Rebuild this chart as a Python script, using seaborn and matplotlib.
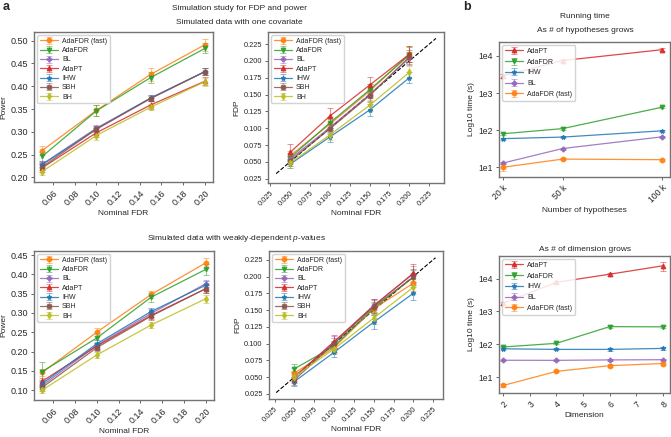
import numpy as np
import matplotlib
matplotlib.use('Agg')
import matplotlib.pyplot as plt
from matplotlib.ticker import FuncFormatter, NullLocator
import seaborn as sns

# ---- data ----
fdr_levels = [0.05, 0.10, 0.15, 0.20]
methods_a = ['AdaFDR (fast)', 'AdaFDR', 'BL', 'AdaPT', 'IHW', 'SBH', 'BH']

# simulated data with one covariate
power_cov = [
    [0.259, 0.347, 0.426, 0.491],
    [0.246, 0.346, 0.419, 0.483],
    [0.229, 0.308, 0.374, 0.432],
    [0.221, 0.298, 0.359, 0.411],
    [0.228, 0.306, 0.374, 0.432],
    [0.223, 0.306, 0.373, 0.432],
    [0.213, 0.292, 0.354, 0.410],
]
power_cov_err = [
    [0.010, 0.012, 0.014, 0.013],
    [0.010, 0.012, 0.012, 0.011],
    [0.006, 0.007, 0.006, 0.008],
    [0.010, 0.010, 0.008, 0.009],
    [0.006, 0.007, 0.006, 0.008],
    [0.006, 0.007, 0.006, 0.008],
    [0.008, 0.009, 0.006, 0.009],
]
fdp_cov = [
    [0.059, 0.106, 0.155, 0.210],
    [0.056, 0.108, 0.157, 0.209],
    [0.054, 0.101, 0.150, 0.204],
    [0.064, 0.118, 0.164, 0.210],
    [0.0465, 0.087, 0.127, 0.175],
    [0.0515, 0.099, 0.1485, 0.206],
    [0.048, 0.090, 0.134, 0.183],
]
fdp_cov_err = [
    [0.007, 0.008, 0.010, 0.012],
    [0.007, 0.008, 0.009, 0.011],
    [0.007, 0.008, 0.009, 0.010],
    [0.013, 0.012, 0.012, 0.012],
    [0.006, 0.007, 0.009, 0.008],
    [0.007, 0.008, 0.009, 0.010],
    [0.007, 0.007, 0.008, 0.009],
]

# simulated data with weakly-dependent p-values
power_dep = [
    [0.146, 0.250, 0.348, 0.430],
    [0.148, 0.235, 0.341, 0.413],
    [0.112, 0.216, 0.299, 0.376],
    [0.123, 0.214, 0.294, 0.363],
    [0.117, 0.220, 0.304, 0.372],
    [0.107, 0.210, 0.292, 0.363],
    [0.100, 0.191, 0.269, 0.337],
]
power_dep_err = [
    [0.010, 0.010, 0.010, 0.013],
    [0.025, 0.012, 0.012, 0.015],
    [0.008, 0.009, 0.010, 0.010],
    [0.009, 0.009, 0.009, 0.010],
    [0.008, 0.009, 0.010, 0.010],
    [0.008, 0.009, 0.009, 0.010],
    [0.008, 0.009, 0.007, 0.010],
]
fdp_dep = [
    [0.056, 0.094, 0.152, 0.190],
    [0.0625, 0.096, 0.153, 0.199],
    [0.051, 0.102, 0.157, 0.204],
    [0.050, 0.103, 0.156, 0.205],
    [0.0435, 0.087, 0.132, 0.175],
    [0.046, 0.100, 0.155, 0.199],
    [0.051, 0.092, 0.138, 0.184],
]
fdp_dep_err = [
    [0.007, 0.008, 0.009, 0.012],
    [0.007, 0.008, 0.009, 0.011],
    [0.008, 0.009, 0.010, 0.012],
    [0.008, 0.010, 0.010, 0.014],
    [0.007, 0.007, 0.010, 0.010],
    [0.008, 0.009, 0.010, 0.012],
    [0.007, 0.008, 0.009, 0.010],
]

# running time
methods_b = ['AdaPT', 'AdaFDR', 'IHW', 'BL', 'AdaFDR (fast)']
n_hypotheses = [20, 50, 100]
hyp_labels = ['20 k', '50 k', '100 k']
time_hyp = [
    [2900, 7500, 14700],
    [80, 110, 415],
    [59, 65, 96],
    [13, 32, 66],
    [10, 16.6, 16],
]
time_hyp_err = [
    [300, 600, 1500],
    [5, 8, 30],
    [4, 4, 6],
    [1, 2, 4],
    [2, 1, 1],
]
dimensions = [2, 4, 6, 8]
time_dim = [
    [1800, 7700, 13600, 24500],
    [83, 107, 345, 340],
    [73, 70, 70, 75],
    [32.7, 32.5, 33.5, 34],
    [5.6, 15, 22.4, 26],
]
time_dim_err = [
    [200, 1000, 1500, 7000],
    [6, 8, 30, 25],
    [8, 5, 6, 10],
    [1.5, 1.5, 1.5, 1.5],
    [0.5, 1, 2, 3],
]

# ---- style ----
sns.set_style('ticks')
plt.rcParams['font.family'] = ['Liberation Sans', 'DejaVu Sans']
plt.rcParams['mathtext.fontset'] = 'custom'
plt.rcParams['mathtext.it'] = 'Liberation Sans:italic'
plt.rcParams['mathtext.rm'] = 'Liberation Sans'

pal = sns.color_palette('tab10')
colors = {'AdaFDR (fast)': pal[1], 'AdaFDR': pal[2], 'BL': pal[4], 'AdaPT': pal[3],
          'IHW': pal[0], 'SBH': pal[5], 'BH': pal[8]}
markers = {'AdaFDR (fast)': 'o', 'AdaFDR': 'v', 'BL': 'P', 'AdaPT': '^',
           'IHW': '*', 'SBH': 'X', 'BH': 'd'}

W, H = 671, 437
fig = plt.figure(figsize=(W / 100, H / 100), dpi=100)


def add_ax(l, r, t, b):
    return fig.add_axes([l / W, 1 - b / H, (r - l) / W, (b - t) / H])


def style_ax(ax, tick_fs):
    for s in ax.spines.values():
        s.set_color('0.45')
        s.set_linewidth(1.0)
    ax.tick_params(labelsize=tick_fs, length=2.5, width=0.6, color='0.3', pad=2)
    for lab in ax.get_xticklabels():
        lab.set_rotation(45)
        lab.set_ha('right')
        lab.set_rotation_mode('anchor')


def draw_series(ax, x, methods, means, errs, spacing):
    for m, y, e in zip(methods, means, errs):
        c = ax.errorbar(x, y, yerr=e, color=colors[m], marker=markers[m], ms=3.2,
                        lw=0.9, elinewidth=0.8, capsize=2, capthick=0.7, label=m)
        c[0].set_alpha(0.85)
        for art in list(c[1]) + list(c[2]):
            art.set_alpha(0.5)
    ax.legend(loc='upper left', fontsize=5, frameon=True, framealpha=0.85,
              edgecolor='0.8', borderpad=0.4, labelspacing=spacing, handlelength=2.6,
              handletextpad=0.6, borderaxespad=0.45)


def power_panel(ax, means, errs, yticks):
    draw_series(ax, fdr_levels, methods_a, means, errs, 0.33)
    ax.set_xticks([0.06, 0.08, 0.10, 0.12, 0.14, 0.16, 0.18, 0.20])
    ax.set_xticklabels([f'{v:.2f}' for v in ax.get_xticks()])
    ax.set_yticks(yticks)
    ax.set_yticklabels([f'{v:.2f}' for v in yticks])
    ax.set_xlabel('Nominal FDR', fontsize=6, labelpad=2)
    ax.set_ylabel('Power', fontsize=6, labelpad=2)
    style_ax(ax, 6.5)


def fdp_panel(ax, means, errs, diag, xlim, ylim):
    ax.plot(diag, diag, ls='--', color='black', lw=0.8, zorder=0.5)
    draw_series(ax, fdr_levels, methods_a, means, errs, 0.33)
    ticks = [0.025, 0.05, 0.075, 0.1, 0.125, 0.15, 0.175, 0.2, 0.225]
    ax.set_xticks(ticks)
    ax.set_xticklabels([f'{v:.3f}' for v in ticks])
    ax.set_yticks(ticks)
    ax.set_yticklabels([f'{v:.3f}' for v in ticks])
    ax.set_xlim(*xlim)
    ax.set_ylim(*ylim)
    ax.set_xlabel('Nominal FDR', fontsize=6, labelpad=2)
    ax.set_ylabel('FDP', fontsize=6, labelpad=2)
    style_ax(ax, 5.3)


def time_panel(ax, x, means, errs, xlabel, xlim):
    draw_series(ax, x, methods_b, means, errs, 0.54)
    ax.set_yscale('log')
    ax.yaxis.set_minor_locator(NullLocator())
    ax.set_yticks([10, 100, 1000, 10000])
    ax.yaxis.set_major_formatter(FuncFormatter(lambda v, _: f'1e{int(round(np.log10(v)))}'))
    ax.set_xlim(*xlim)
    ax.set_xlabel(xlabel, fontsize=6, labelpad=2)
    ax.set_ylabel('Log10 time (s)', fontsize=6, labelpad=2)


# panel a
ax1 = add_ax(34, 213, 32, 182)
power_panel(ax1, power_cov, power_cov_err, [0.20, 0.25, 0.30, 0.35, 0.40, 0.45, 0.50])
ax2 = add_ax(268, 444, 32, 183)
fdp_panel(ax2, fdp_cov, fdp_cov_err, [0.0325, 0.2335], (0.0223, 0.2436), (0.0186, 0.243))
ax3 = add_ax(34, 214, 251, 400)
power_panel(ax3, power_dep, power_dep_err, [0.10, 0.15, 0.20, 0.25, 0.30, 0.35, 0.40, 0.45])
ax4 = add_ax(269, 443, 251, 399)
fdp_panel(ax4, fdp_dep, fdp_dep_err, [0.027, 0.228], (0.018, 0.2374), (0.0175, 0.238))

# panel b
ax5 = add_ax(499, 670, 42, 177)
time_panel(ax5, n_hypotheses, time_hyp, time_hyp_err, 'Number of hypotheses', (18, 104))
ax5.set_xticks(n_hypotheses)
ax5.set_xticklabels(hyp_labels)
style_ax(ax5, 6.2)
ax6 = add_ax(499, 670, 256, 393)
time_panel(ax6, dimensions, time_dim, time_dim_err, 'Dimension', (1.84, 8.27))
ax6.set_xticks(range(2, 9))
style_ax(ax6, 6.2)

# titles
fig.text(3 / W, 1 - 7 / H, 'a', fontsize=9, fontweight='bold', va='center', ha='left')
fig.text(463 / W, 1 - 7 / H, 'b', fontsize=9, fontweight='bold', va='center', ha='left')
fig.text(240 / W, 1 - 9 / H, 'Simulation study for FDP and power', fontsize=6, ha='center', va='center')
fig.text(239 / W, 1 - 23 / H, 'Simulated data with one covariate', fontsize=6, ha='center', va='center')
fig.text(237 / W, 1 - 239 / H, 'Simulated data with weakly-dependent $p$-values', fontsize=6,
         ha='center', va='center')
fig.text(585 / W, 1 - 17 / H, 'Running time', fontsize=6, ha='center', va='center')
fig.text(585 / W, 1 - 31 / H, 'As # of hypotheses grows', fontsize=6, ha='center', va='center')
fig.text(585 / W, 1 - 249 / H, 'As # of dimension grows', fontsize=6, ha='center', va='center')

fig.savefig('out.png', dpi=100, facecolor='white')
